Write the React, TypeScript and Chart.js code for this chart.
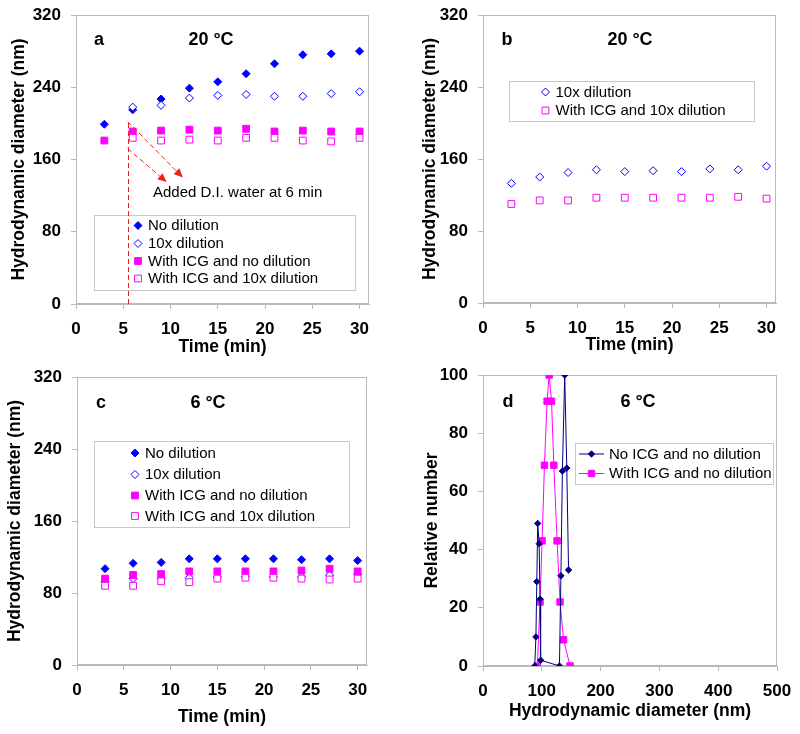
import React, { useEffect, useRef } from 'react';
import { Chart, registerables } from 'chart.js';

Chart.register(...registerables);

// ---------------- data ----------------
const timeMin = [3, 6, 9, 12, 15, 18, 21, 24, 27, 30];
const timeTicks = [0, 5, 10, 15, 20, 25, 30];
const diameterTicks = [0, 80, 160, 240, 320];
const sizeTicks = [0, 100, 200, 300, 400, 500];
const numberTicks = [0, 20, 40, 60, 80, 100];

// panel a (20 °C)
const aNoDilution = [199, 215, 227, 239, 246, 255, 266, 276, 277, 280];
const aTenX = [null, 218, 220, 228, 231, 232, 230, 230, 233, 235];
const aIcgNoDilution = [181, 191, 192, 193, 192, 194, 191, 192, 191, 191];
const aIcgTenX = [null, 184, 181, 182, 181, 184, 184, 181, 180, 184];

// panel b (20 °C)
const bTenX = [133, 140, 145, 148, 146, 147, 146, 149, 148, 152];
const bIcgTenX = [110, 114, 114, 117, 117, 117, 117, 117, 118, 116];

// panel c (6 °C)
const cNoDilution = [107, 113, 114, 118, 118, 118, 118, 117, 118, 116];
const cTenX = [93, 96, 96, 97, 98, 98, 98, 98, 100, 101];
const cIcgNoDilution = [96, 100, 101, 104, 104, 104, 104, 105, 107, 104];
const cIcgTenX = [88, 88, 93, 92, 96, 97, 97, 96, 95, 96];

// panel d (6 °C) size distributions
const dNoIcgDiameter = [88, 90, 91.5, 93, 95.5, 97, 98, 130, 132.5, 135, 139, 142.5, 145.5];
const dNoIcgNumber = [0, 10, 29, 49, 42, 23, 2, 0, 31, 67, 100, 68, 33];
const dIcgDiameter = [92.5, 97, 100.5, 104.5, 109, 112.5, 116.5, 120.5, 126, 131, 137, 148];
const dIcgNumber = [0, 22, 43, 69, 91, 100, 91, 69, 43, 22, 9, 0];

// annotation in panel a: D.I. water added at 6 min
const waterLineX = 5.47;
const waterLineTop = 202;
const arrowFromX = [5.47, 5.47];
const arrowFromY = [202, 172];
const arrowToX = [11.3, 9.6];
const arrowToY = [140, 135];

// labels
const labelNoDilution = 'No dilution';
const labelTenX = '10x dilution';
const labelIcgNo = 'With ICG and no dilution';
const labelIcgTenX = 'With ICG and 10x dilution';
const labelNoIcgNo = 'No ICG and no dilution';
const timeTitle = 'Time (min)';
const diameterTitle = 'Hydrodynamic diameter (nm)';
const numberTitle = 'Relative number';
const annotationText = 'Added D.I. water at 6 min';

// ---------------- styles ----------------
const FONT = 'Arial, "Liberation Sans", Helvetica, sans-serif';
const AXIS_GRAY = '#b9b9b9';
const LEGEND_GRAY = '#c8c8c8';
const BLUE = '#0000ff';
const MAGENTA = '#ff00ff';
const NAVY = '#000080';
const RED = '#ee2020';
const TICK_SIZE = 17;
const TITLE_SIZE = 17.5;
const TITLE_LH = TITLE_SIZE * 1.2;

type Marker = { shape: 'diamond' | 'square'; color: string; filled: boolean; half: number };

const mNo: Marker = { shape: 'diamond', color: BLUE, filled: true, half: 4 };
const mTenX: Marker = { shape: 'diamond', color: BLUE, filled: false, half: 4 };
const mIcgNo: Marker = { shape: 'square', color: MAGENTA, filled: true, half: 3.4 };
const mIcgTenX: Marker = { shape: 'square', color: MAGENTA, filled: false, half: 3.4 };
const mNavy: Marker = { shape: 'diamond', color: NAVY, filled: true, half: 3.2 };
const mMag: Marker = { shape: 'square', color: MAGENTA, filled: true, half: 3.2 };

function drawMarker(ctx: CanvasRenderingContext2D, x: number, y: number, m: Marker) {
  ctx.beginPath();
  if (m.shape === 'diamond') {
    ctx.moveTo(x - m.half, y);
    ctx.lineTo(x, y - m.half);
    ctx.lineTo(x + m.half, y);
    ctx.lineTo(x, y + m.half);
    ctx.closePath();
  } else {
    ctx.rect(x - m.half, y - m.half, 2 * m.half, 2 * m.half);
  }
  ctx.fillStyle = m.filled ? m.color : '#ffffff';
  ctx.fill();
  ctx.lineWidth = 1;
  ctx.strokeStyle = m.color;
  ctx.stroke();
}

function pts(xs: number[], ys: (number | null)[]) {
  const out: { x: number; y: number }[] = [];
  xs.forEach((x, i) => {
    const v = ys[i];
    if (v !== null && v !== undefined) out.push({ x, y: v });
  });
  return out;
}

function ds(label: string, xs: number[], ys: (number | null)[], m: Marker, order: number, line = false) {
  return {
    label,
    data: pts(xs, ys),
    order,
    showLine: line,
    borderColor: m.color,
    borderWidth: 1,
    backgroundColor: m.filled ? m.color : '#ffffff',
    pointStyle: m.shape === 'diamond' ? 'rectRot' : 'rect',
    pointRadius: m.shape === 'diamond' ? m.half : m.half / Math.SQRT1_2,
    pointBorderColor: m.color,
    pointBackgroundColor: m.filled ? m.color : '#ffffff',
    pointBorderWidth: 1,
    pointHoverRadius: 0,
    tension: 0,
  };
}

type LegendItem = { label: string; marker: Marker; line?: boolean };
type LegendSpec = {
  box: [number, number, number, number];
  markerX: number;
  textX: number;
  rows: number[];
  items: LegendItem[];
  lineFrom?: number;
  lineTo?: number;
};

function drawLegend(ctx: CanvasRenderingContext2D, lg: LegendSpec) {
  const [x1, y1, x2, y2] = lg.box;
  ctx.strokeStyle = LEGEND_GRAY;
  ctx.lineWidth = 1;
  ctx.strokeRect(Math.round(x1) + 0.5, Math.round(y1) + 0.5, Math.round(x2 - x1), Math.round(y2 - y1));
  ctx.font = `15px ${FONT}`;
  ctx.textAlign = 'left';
  ctx.textBaseline = 'middle';
  lg.items.forEach((it, i) => {
    const y = lg.rows[i];
    if (it.line && lg.lineFrom !== undefined && lg.lineTo !== undefined) {
      ctx.beginPath();
      ctx.moveTo(lg.lineFrom, y);
      ctx.lineTo(lg.lineTo, y);
      ctx.strokeStyle = it.marker.color;
      ctx.lineWidth = 1;
      ctx.stroke();
    }
    drawMarker(ctx, lg.markerX, y, it.marker);
    ctx.fillStyle = '#000000';
    ctx.fillText(it.label, lg.textX, y + 0.5);
  });
}

type Spec = {
  id: string;
  cx: number; cy: number; cw: number; ch: number;
  area: { L: number; T: number; R: number; B: number };
  yTitleX: number; xTitleY: number;
  xMin: number; xMax: number; yMin: number; yMax: number;
  xTicks: number[]; yTicks: number[];
  xTitle: string; yTitle: string;
  datasets: any[];
  panelLetter: [string, number, number];
  temp: [string, number, number];
  legend: LegendSpec;
  extra?: (chart: Chart, ctx: CanvasRenderingContext2D) => void;
};

function buildConfig(s: Spec): any {
  const L = s.area.L - s.cx, T = s.area.T - s.cy, R = s.area.R - s.cx, B = s.area.B - s.cy;
  const yScaleLeft = s.yTitleX - s.cx - TITLE_LH / 2;
  const yWidth = L - yScaleLeft;
  const xScaleBottom = s.xTitleY - s.cy + TITLE_LH / 2;
  const xHeight = xScaleBottom - B;
  const tickFont = { family: FONT, size: TICK_SIZE, weight: 'bold' };
  const titleFont = { family: FONT, size: TITLE_SIZE, weight: 'bold' };
  const grid = { drawOnChartArea: false, drawTicks: true, tickLength: 5, color: AXIS_GRAY, lineWidth: 1 };
  const decor = {
    id: 'decor_' + s.id,
    beforeDatasetsDraw(chart: Chart) {
      const ctx = chart.ctx;
      const a = chart.chartArea;
      ctx.save();
      ctx.strokeStyle = AXIS_GRAY;
      ctx.lineWidth = 1;
      ctx.strokeRect(Math.round(a.left) + 0.5, Math.round(a.top) + 0.5, Math.round(a.right - a.left) - 1, Math.round(a.bottom - a.top) - 1);
      ctx.restore();
    },
    afterDraw(chart: Chart) {
      const ctx = chart.ctx;
      ctx.save();
      ctx.translate(-s.cx, -s.cy);
      ctx.fillStyle = '#000000';
      ctx.font = `bold 18px ${FONT}`;
      ctx.textAlign = 'center';
      ctx.textBaseline = 'middle';
      ctx.fillText(s.panelLetter[0], s.panelLetter[1], s.panelLetter[2]);
      ctx.fillText(s.temp[0], s.temp[1], s.temp[2]);
      drawLegend(ctx, s.legend);
      ctx.restore();
      if (s.extra) {
        ctx.save();
        ctx.translate(0, 0);
        s.extra(chart, ctx);
        ctx.restore();
      }
    },
  };
  return {
    type: 'scatter',
    data: { datasets: s.datasets },
    plugins: [decor],
    options: {
      responsive: false,
      animation: false,
      devicePixelRatio: 1,
      events: [],
      layout: { padding: { left: yScaleLeft, top: T, right: s.cw - R, bottom: s.ch - xScaleBottom } },
      plugins: { legend: { display: false }, tooltip: { enabled: false } },
      scales: {
        x: {
          type: 'linear',
          position: 'bottom',
          min: s.xMin,
          max: s.xMax,
          afterBuildTicks: (sc: any) => { sc.ticks = s.xTicks.map((v) => ({ value: v })); },
          afterFit: (sc: any) => { sc.height = xHeight; },
          ticks: { font: tickFont, color: '#000000', padding: 10, maxRotation: 0, autoSkip: false },
          grid,
          border: { display: true, color: AXIS_GRAY, width: 1 },
          title: { display: true, text: s.xTitle, font: titleFont, color: '#000000', padding: 0 },
        },
        y: {
          type: 'linear',
          position: 'left',
          min: s.yMin,
          max: s.yMax,
          afterBuildTicks: (sc: any) => { sc.ticks = s.yTicks.map((v) => ({ value: v })); },
          afterFit: (sc: any) => { sc.width = yWidth; },
          ticks: { font: tickFont, color: '#000000', padding: 10, autoSkip: false },
          grid,
          border: { display: true, color: AXIS_GRAY, width: 1 },
          title: { display: true, text: s.yTitle, font: titleFont, color: '#000000', padding: 0 },
        },
      },
    },
  };
}

// draws in canvas coords of panel a; the text position is given in page coords
const ANNOT_TEXT_X = 153;
const ANNOT_TEXT_Y = 193;
const PANEL_A_CY = -10;

function drawArrowAnnotation(chart: Chart, ctx: CanvasRenderingContext2D) {
  const xs = chart.scales.x;
  const ys = chart.scales.y;
  ctx.strokeStyle = RED;
  ctx.fillStyle = RED;
  ctx.lineWidth = 1;
  ctx.setLineDash([5, 3]);
  const vx = Math.round(xs.getPixelForValue(waterLineX)) + 0.5;
  ctx.beginPath();
  ctx.moveTo(vx, ys.getPixelForValue(0));
  ctx.lineTo(vx, ys.getPixelForValue(waterLineTop));
  ctx.stroke();
  arrowFromX.forEach((fx, i) => {
    const x0 = xs.getPixelForValue(fx), y0 = ys.getPixelForValue(arrowFromY[i]);
    const x1 = xs.getPixelForValue(arrowToX[i]), y1 = ys.getPixelForValue(arrowToY[i]);
    const ang = Math.atan2(y1 - y0, x1 - x0);
    const headLen = 9, headW = 4;
    const bx = x1 - headLen * Math.cos(ang), by = y1 - headLen * Math.sin(ang);
    ctx.setLineDash([5, 3]);
    ctx.beginPath();
    ctx.moveTo(x0, y0);
    ctx.lineTo(bx, by);
    ctx.stroke();
    ctx.setLineDash([]);
    ctx.beginPath();
    ctx.moveTo(x1, y1);
    ctx.lineTo(bx + headW * Math.sin(ang), by - headW * Math.cos(ang));
    ctx.lineTo(bx - headW * Math.sin(ang), by + headW * Math.cos(ang));
    ctx.closePath();
    ctx.fill();
  });
  ctx.setLineDash([]);
  ctx.fillStyle = '#000000';
  ctx.font = `15px ${FONT}`;
  ctx.textAlign = 'left';
  ctx.textBaseline = 'middle';
  ctx.fillText(annotationText, ANNOT_TEXT_X, ANNOT_TEXT_Y - PANEL_A_CY);
}

const fourItems: LegendItem[] = [
  { label: labelNoDilution, marker: mNo },
  { label: labelTenX, marker: mTenX },
  { label: labelIcgNo, marker: mIcgNo },
  { label: labelIcgTenX, marker: mIcgTenX },
];

const specs: Spec[] = [
  {
    id: 'a', cx: 0, cy: PANEL_A_CY, cw: 400, ch: 377,
    area: { L: 76, T: 15, R: 369, B: 304 },
    yTitleX: 19, xTitleY: 347,
    xMin: 0, xMax: 31, yMin: 0, yMax: 320,
    xTicks: timeTicks, yTicks: diameterTicks,
    xTitle: timeTitle, yTitle: diameterTitle,
    datasets: [
      ds(labelNoDilution, timeMin, aNoDilution, mNo, 3),
      ds(labelTenX, timeMin, aTenX, mTenX, 2),
      ds(labelIcgNo, timeMin, aIcgNoDilution, mIcgNo, 1),
      ds(labelIcgTenX, timeMin, aIcgTenX, mIcgTenX, 0),
    ],
    panelLetter: ['a', 99, 40],
    temp: ['20 °C', 211, 40],
    legend: { box: [94, 215, 355, 290], markerX: 138, textX: 148, rows: [225.5, 243.5, 261, 278.5], items: fourItems },
    extra: drawArrowAnnotation,
  },
  {
    id: 'b', cx: 400, cy: -10, cw: 400, ch: 377,
    area: { L: 483, T: 15, R: 776, B: 303 },
    yTitleX: 430, xTitleY: 345,
    xMin: 0, xMax: 31, yMin: 0, yMax: 320,
    xTicks: timeTicks, yTicks: diameterTicks,
    xTitle: timeTitle, yTitle: diameterTitle,
    datasets: [
      ds(labelTenX, timeMin, bTenX, mTenX, 1),
      ds(labelIcgTenX, timeMin, bIcgTenX, mIcgTenX, 0),
    ],
    panelLetter: ['b', 507, 40],
    temp: ['20 °C', 630, 40],
    legend: {
      box: [509, 81, 754, 121], markerX: 545.5, textX: 555.5, rows: [92, 110.5],
      items: [
        { label: labelTenX, marker: mTenX },
        { label: labelIcgTenX, marker: mIcgTenX },
      ],
    },
  },
  {
    id: 'c', cx: 0, cy: 350, cw: 400, ch: 384,
    area: { L: 77, T: 377, R: 367, B: 665 },
    yTitleX: 15.5, xTitleY: 717,
    xMin: 0, xMax: 31, yMin: 0, yMax: 320,
    xTicks: timeTicks, yTicks: diameterTicks,
    xTitle: timeTitle, yTitle: diameterTitle,
    datasets: [
      ds(labelNoDilution, timeMin, cNoDilution, mNo, 3),
      ds(labelTenX, timeMin, cTenX, mTenX, 2),
      ds(labelIcgNo, timeMin, cIcgNoDilution, mIcgNo, 1),
      ds(labelIcgTenX, timeMin, cIcgTenX, mIcgTenX, 0),
    ],
    panelLetter: ['c', 101, 403],
    temp: ['6 °C', 208, 403],
    legend: { box: [94, 441, 349, 527], markerX: 135, textX: 145, rows: [453, 474.5, 495.5, 516], items: fourItems },
  },
  {
    id: 'd', cx: 400, cy: 350, cw: 420, ch: 384,
    area: { L: 483, T: 375, R: 777, B: 666 },
    yTitleX: 432, xTitleY: 711,
    xMin: 0, xMax: 500, yMin: 0, yMax: 100,
    xTicks: sizeTicks, yTicks: numberTicks,
    xTitle: diameterTitle, yTitle: numberTitle,
    datasets: [
      ds(labelNoIcgNo, dNoIcgDiameter, dNoIcgNumber, mNavy, 0, true),
      ds(labelIcgNo, dIcgDiameter, dIcgNumber, mMag, 1, true),
    ],
    panelLetter: ['d', 508, 402],
    temp: ['6 °C', 638, 402],
    legend: {
      box: [575, 443, 773, 484], markerX: 591.5, textX: 609, rows: [454, 473.5],
      lineFrom: 579, lineTo: 604,
      items: [
        { label: labelNoIcgNo, marker: mNavy, line: true },
        { label: labelIcgNo, marker: mMag, line: true },
      ],
    },
  },
];

function Panel({ spec }: { spec: Spec }) {
  const ref = useRef<HTMLCanvasElement>(null);
  useEffect(() => {
    if (!ref.current) return;
    const chart = new Chart(ref.current, buildConfig(spec));
    return () => chart.destroy();
  }, [spec]);
  return (
    <canvas
      ref={ref}
      width={spec.cw}
      height={spec.ch}
      style={{ position: 'absolute', left: spec.cx, top: spec.cy, width: spec.cw, height: spec.ch }}
    />
  );
}

export default function App() {
  return (
    <div style={{ position: 'absolute', left: 0, top: 0, width: 800, height: 734, background: '#ffffff', overflow: 'hidden' }}>
      {specs.map((s) => (
        <Panel key={s.id} spec={s} />
      ))}
    </div>
  );
}
